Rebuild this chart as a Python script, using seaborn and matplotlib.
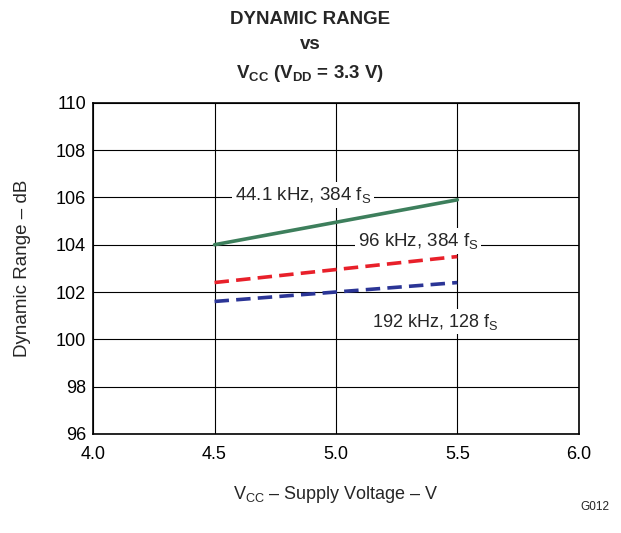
import pandas as pd
import matplotlib
matplotlib.use("Agg")
import matplotlib.pyplot as plt
import seaborn as sns

# data
vcc = [4.5, 5.0, 5.5]
dr_441 = [104.0, 104.95, 105.9]
dr_96 = [102.4, 102.95, 103.5]
dr_192 = [101.6, 102.0, 102.4]

df = pd.DataFrame({
    "Vcc": vcc * 3,
    "DR": dr_441 + dr_96 + dr_192,
    "mode": ["44.1"] * 3 + ["96"] * 3 + ["192"] * 3,
})

sns.set_style("white")
plt.rcParams["font.family"] = ["Liberation Sans", "DejaVu Sans"]
plt.rcParams["mathtext.fontset"] = "custom"
plt.rcParams["mathtext.rm"] = "Liberation Sans"
plt.rcParams["mathtext.it"] = "Liberation Sans"
plt.rcParams["mathtext.bf"] = "Liberation Sans:bold"

fig = plt.figure(figsize=(6.21, 5.33), dpi=100)
ax = fig.add_axes([0.150, 0.186, 0.782, 0.621])

palette = {"44.1": "#3d7f5c", "96": "#e8202a", "192": "#2b3596"}
sns.lineplot(data=df, x="Vcc", y="DR", hue="mode", style="mode",
             palette=palette, dashes={"44.1": "", "96": (4, 2), "192": (4, 2)},
             linewidth=2.6, legend=False, ax=ax)

ax.set_xlim(4.0, 6.0)
ax.set_ylim(96, 110)
ax.set_xticks([4.0, 4.5, 5.0, 5.5, 6.0])
ax.set_xticklabels(["4.0", "4.5", "5.0", "5.5", "6.0"])
ax.set_yticks(range(96, 111, 2))
ax.grid(True, color="black", linewidth=0.8)
ax.set_axisbelow(True)
for s in ax.spines.values():
    s.set_color("black")
    s.set_linewidth(1.2)
ax.tick_params(length=0, labelsize=13, colors="black", pad=5)
ax.tick_params(axis="x", pad=9)

ax.set_xlabel(r"V$_\mathregular{CC}$ – Supply Voltage – V", fontsize=13, labelpad=15)
ax.set_ylabel("Dynamic Range – dB", fontsize=13.5, labelpad=18)

fig.text(0.5, 0.964, "DYNAMIC RANGE", ha="center", va="center",
         fontsize=13.5, fontweight="bold")
fig.text(0.5, 0.916, "vs", ha="center", va="center",
         fontsize=13.5, fontweight="bold")
fig.text(0.5, 0.862, r"$\mathbf{V_{CC}}$ ($\mathbf{V_{DD}}$ = 3.3 V)", ha="center",
         va="center", fontsize=13.5, fontweight="bold")

box = dict(facecolor="white", edgecolor="none", pad=2)
ax.text(4.585, 106.1, r"44.1 kHz, 384 f$_\mathregular{S}$", fontsize=13.5,
        va="center", bbox=box)
ax.text(5.09, 104.15, r"96 kHz, 384 f$_\mathregular{S}$", fontsize=13.5,
        va="center", bbox=box)
ax.text(5.15, 100.75, r"192 kHz, 128 f$_\mathregular{S}$", fontsize=13,
        va="center", bbox=box)

fig.text(0.958, 0.048, "G012", ha="center", va="center", fontsize=8.5)

fig.savefig("out.png", dpi=100)
